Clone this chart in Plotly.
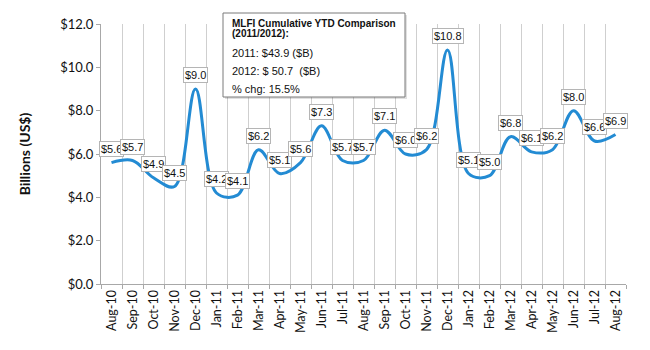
import plotly.graph_objects as go

months = ["Aug-10","Sep-10","Oct-10","Nov-10","Dec-10","Jan-11","Feb-11","Mar-11","Apr-11",
          "May-11","Jun-11","Jul-11","Aug-11","Sep-11","Oct-11","Nov-11","Dec-11","Jan-12",
          "Feb-12","Mar-12","Apr-12","May-12","Jun-12","Jul-12","Aug-12"]
values = [5.6, 5.7, 4.9, 4.5, 9.0, 4.2, 4.1, 6.2, 5.1, 5.6, 7.3, 5.7, 5.7, 7.1, 6.0, 6.2,
          10.8, 5.1, 5.0, 6.8, 6.1, 6.2, 8.0, 6.6, 6.9]
y_ticks = [0, 2, 4, 6, 8, 10, 12]
y_tick_labels = ["$0.0", "$2.0", "$4.0", "$6.0", "$8.0", "$10.0", "$12.0"]
box_lines = ["MLFI Cumulative YTD Comparison", "(2011/2012):", "2011: $43.9 ($B)",
             "2012: $ 50.7  ($B)", "% chg: 15.5%"]

L, R, T, B = 101, 24, 24, 66
W, H = 650, 350
pw, ph = W - L - R, H - T - B

def px(x):
    return (x - L) / pw

def py(y):
    return (H - B - y) / ph

fig = go.Figure()
fig.add_trace(go.Scatter(
    x=months, y=values, mode="lines",
    line=dict(color="#238bd3", width=3, shape="spline", smoothing=1),
    hoverinfo="skip", showlegend=False,
))

annotations = []
for m, v in zip(months, values):
    annotations.append(dict(
        x=m, y=v, xref="x", yref="y", text=f"${v:.1f}", showarrow=False,
        yshift=14, font=dict(family="Liberation Sans, Arial", size=11, color="#111"),
        bgcolor="white", bordercolor="#b5b5b5", borderwidth=1, borderpad=1,
    ))

line_ys = [23, 34, 53, 71, 89]
for i, (txt, yy) in enumerate(zip(box_lines, line_ys)):
    bold = i < 2
    annotations.append(dict(
        x=px(230), y=py(yy), xref="paper", yref="paper",
        text=f"<b>{txt}</b>" if bold else txt, showarrow=False,
        xanchor="left", yanchor="middle", align="left",
        font=dict(family="Liberation Sans, Arial", size=10 if bold else 11, color="#111"),
    ))

shapes = [
    # hide gridline on right plot edge
    dict(type="line", xref="paper", yref="paper", x0=1, x1=1, y0=0.006, y1=1.01,
         line=dict(color="white", width=3), layer="between"),
    dict(type="rect", xref="paper", yref="paper",
         x0=px(225), x1=px(407), y0=py(99), y1=py(15),
         line=dict(width=0), fillcolor="rgba(0,0,0,0.12)", layer="above"),
    dict(type="rect", xref="paper", yref="paper",
         x0=px(223), x1=px(405), y0=py(97), y1=py(13),
         line=dict(color="#7a7a7a", width=1), fillcolor="white", layer="above"),
]

fig.update_layout(
    width=W, height=H,
    margin=dict(l=L, r=R, t=T, b=B),
    paper_bgcolor="white", plot_bgcolor="white",
    annotations=annotations, shapes=shapes,
    xaxis=dict(
        type="category", range=[-0.5, len(months) - 0.5],
        tickson="boundaries", showgrid=True, gridcolor="#cfcfcf", gridwidth=1,
        showline=True, linecolor="#a8a8a8", linewidth=1,
        ticks="outside", ticklen=4, tickcolor="#a8a8a8",
        tickangle=-90, tickfont=dict(family="Lato, Open Sans", size=12.5, color="#111"),
        fixedrange=True,
    ),
    yaxis=dict(
        range=[0, 12], tickvals=y_ticks, ticktext=y_tick_labels,
        showgrid=False, zeroline=False,
        showline=True, linecolor="#a8a8a8", linewidth=1,
        ticks="outside", ticklen=4, tickcolor="#a8a8a8",
        tickfont=dict(family="Lato, Open Sans", size=13, color="#111"),
        title=dict(text="<b>Billions (US$)</b>", font=dict(family="Lato, Open Sans", size=14, color="#111"),
                   standoff=26),
        fixedrange=True,
    ),
)

fig.write_html("out.html")
